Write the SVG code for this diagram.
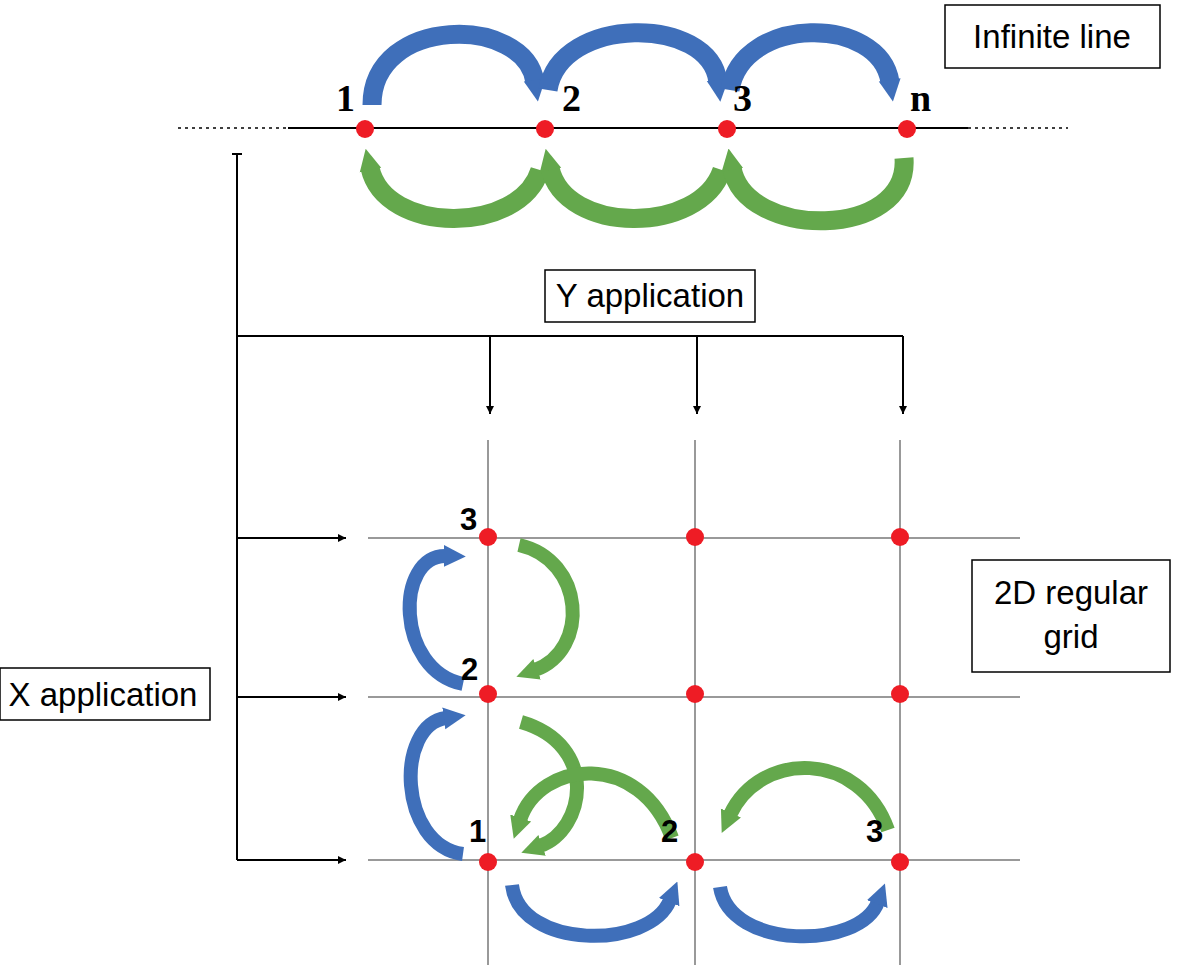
<svg xmlns="http://www.w3.org/2000/svg" width="1181" height="972" viewBox="0 0 1181 972">
<style>
.box{fill:#fff;stroke:#000;stroke-width:1.5}
.lbl{font-family:"Liberation Sans",Arial,sans-serif;font-size:33px;fill:#000}
.num{font-family:"Liberation Sans",Arial,sans-serif;font-size:31px;font-weight:bold;fill:#000}
.numS{font-family:"Liberation Serif","Times New Roman",serif;font-size:38px;font-weight:bold;fill:#000}
.bl{fill:none;stroke:#3f6fba;stroke-width:14}
.gr{fill:none;stroke:#64a84c;stroke-width:14}
.t{stroke-width:19}
.grid{stroke:#999;stroke-width:2}
.k{stroke:#000;stroke-width:2;fill:none}
.dot{fill:#ee1c25}
</style>
<defs>
<marker id="hb" viewBox="0 0 10 10" refX="1" refY="5" markerUnits="userSpaceOnUse" markerWidth="22" markerHeight="30" orient="auto"><path d="M0,0 L10,5 L0,10 Z" fill="#3f6fba"/></marker>
<marker id="hg" viewBox="0 0 10 10" refX="1" refY="5" markerUnits="userSpaceOnUse" markerWidth="22" markerHeight="30" orient="auto"><path d="M0,0 L10,5 L0,10 Z" fill="#64a84c"/></marker>
<marker id="hk" viewBox="0 0 10 10" refX="10" refY="5" markerUnits="userSpaceOnUse" markerWidth="10" markerHeight="8" orient="auto"><path d="M0,0 L10,5 L0,10 Z" fill="#000"/></marker>
</defs>
<g id="connectors">
<line x1="178" y1="128" x2="288" y2="128" stroke="#000" stroke-width="1.5" stroke-dasharray="3,4"/>
<line x1="968" y1="128" x2="1068" y2="128" stroke="#000" stroke-width="1.5" stroke-dasharray="3,4"/>
<line x1="288" y1="128" x2="968" y2="128" stroke="#000" stroke-width="2"/>
<path class="k" d="M237,155 V860"/>
<path class="k" d="M232,154 H242"/>
<path class="k" d="M237,336 H903"/>
<path class="k" d="M490,336 V414" marker-end="url(#hk)"/>
<path class="k" d="M697,336 V414" marker-end="url(#hk)"/>
<path class="k" d="M903,336 V414" marker-end="url(#hk)"/>
<path class="k" d="M237,538 H346" marker-end="url(#hk)"/>
<path class="k" d="M237,697 H346" marker-end="url(#hk)"/>
<path class="k" d="M237,860 H346" marker-end="url(#hk)"/>
<g class="grid">
<line x1="488" y1="440" x2="488" y2="965"/><line x1="695" y1="440" x2="695" y2="965"/><line x1="900" y1="440" x2="900" y2="965"/>
<line x1="368" y1="538" x2="1020" y2="538"/><line x1="368" y1="697" x2="1020" y2="697"/><line x1="368" y1="860" x2="1020" y2="860"/>
</g>
<path class="bl t" d="M372,105 C372,15 525,15 535,82" marker-end="url(#hb)"/>
<path class="bl t" d="M548,90 C560,15 710,15 718,82" marker-end="url(#hb)"/>
<path class="bl t" d="M730,90 C742,15 880,15 890,82" marker-end="url(#hb)"/>
<path class="gr t" d="M540,170 C520,235 385,235 370,168" marker-end="url(#hg)"/>
<path class="gr t" d="M722,170 C700,235 565,235 550,168" marker-end="url(#hg)"/>
<path class="gr t" d="M904,158 C910,240 745,240 732,168" marker-end="url(#hg)"/>
<path class="bl" d="M463,684 C395,670 395,555 446,556" marker-end="url(#hb)"/>
<path class="bl" d="M463,854 C398,845 395,725 446,718" marker-end="url(#hb)"/>
<path class="gr" d="M519,545 C585,560 590,650 535,670" marker-end="url(#hg)"/>
<path class="gr" d="M521,722 C600,745 585,830 540,846" marker-end="url(#hg)"/>
<path class="gr" d="M672,838 C640,750 540,760 520,820" marker-end="url(#hg)"/>
<path class="gr" d="M888,830 C860,750 760,750 730,815" marker-end="url(#hg)"/>
<path class="bl" d="M512,885 C520,950 650,950 670,900" marker-end="url(#hb)"/>
<path class="bl" d="M720,887 C730,950 860,950 878,902" marker-end="url(#hb)"/>
</g>
<g id="nodes">
<circle class="dot" cx="365" cy="129" r="9"/><circle class="dot" cx="545" cy="129" r="9"/><circle class="dot" cx="727" cy="129" r="9"/><circle class="dot" cx="907" cy="129" r="9"/>
<circle class="dot" cx="488" cy="537" r="9"/><circle class="dot" cx="695" cy="537" r="9"/><circle class="dot" cx="900" cy="537" r="9"/>
<circle class="dot" cx="488" cy="694" r="9"/><circle class="dot" cx="695" cy="694" r="9"/><circle class="dot" cx="900" cy="694" r="9"/>
<circle class="dot" cx="488" cy="862" r="9"/><circle class="dot" cx="695" cy="862" r="9"/><circle class="dot" cx="900" cy="862" r="9"/>
<text class="numS" x="336" y="111">1</text><text class="numS" x="562" y="111">2</text><text class="numS" x="733" y="111">3</text><text class="numS" x="910" y="111">n</text>
<text class="num" x="460" y="530">3</text><text class="num" x="461" y="680">2</text><text class="num" x="469" y="842">1</text><text class="num" x="661" y="842">2</text><text class="num" x="866" y="842">3</text>
</g>
<g id="boxes">
<rect class="box" x="945" y="5" width="215" height="63"/><text class="lbl" x="1052" y="48" text-anchor="middle">Infinite line</text>
<rect class="box" x="545" y="270" width="210" height="52"/><text class="lbl" x="650" y="307" text-anchor="middle">Y application</text>
<rect class="box" x="972" y="560" width="198" height="112"/><text class="lbl" x="1071" y="604" text-anchor="middle">2D regular</text><text class="lbl" x="1071" y="648" text-anchor="middle">grid</text>
<rect class="box" x="0" y="668" width="210" height="52"/><text class="lbl" x="103" y="706" text-anchor="middle">X application</text>
</g>
</svg>
